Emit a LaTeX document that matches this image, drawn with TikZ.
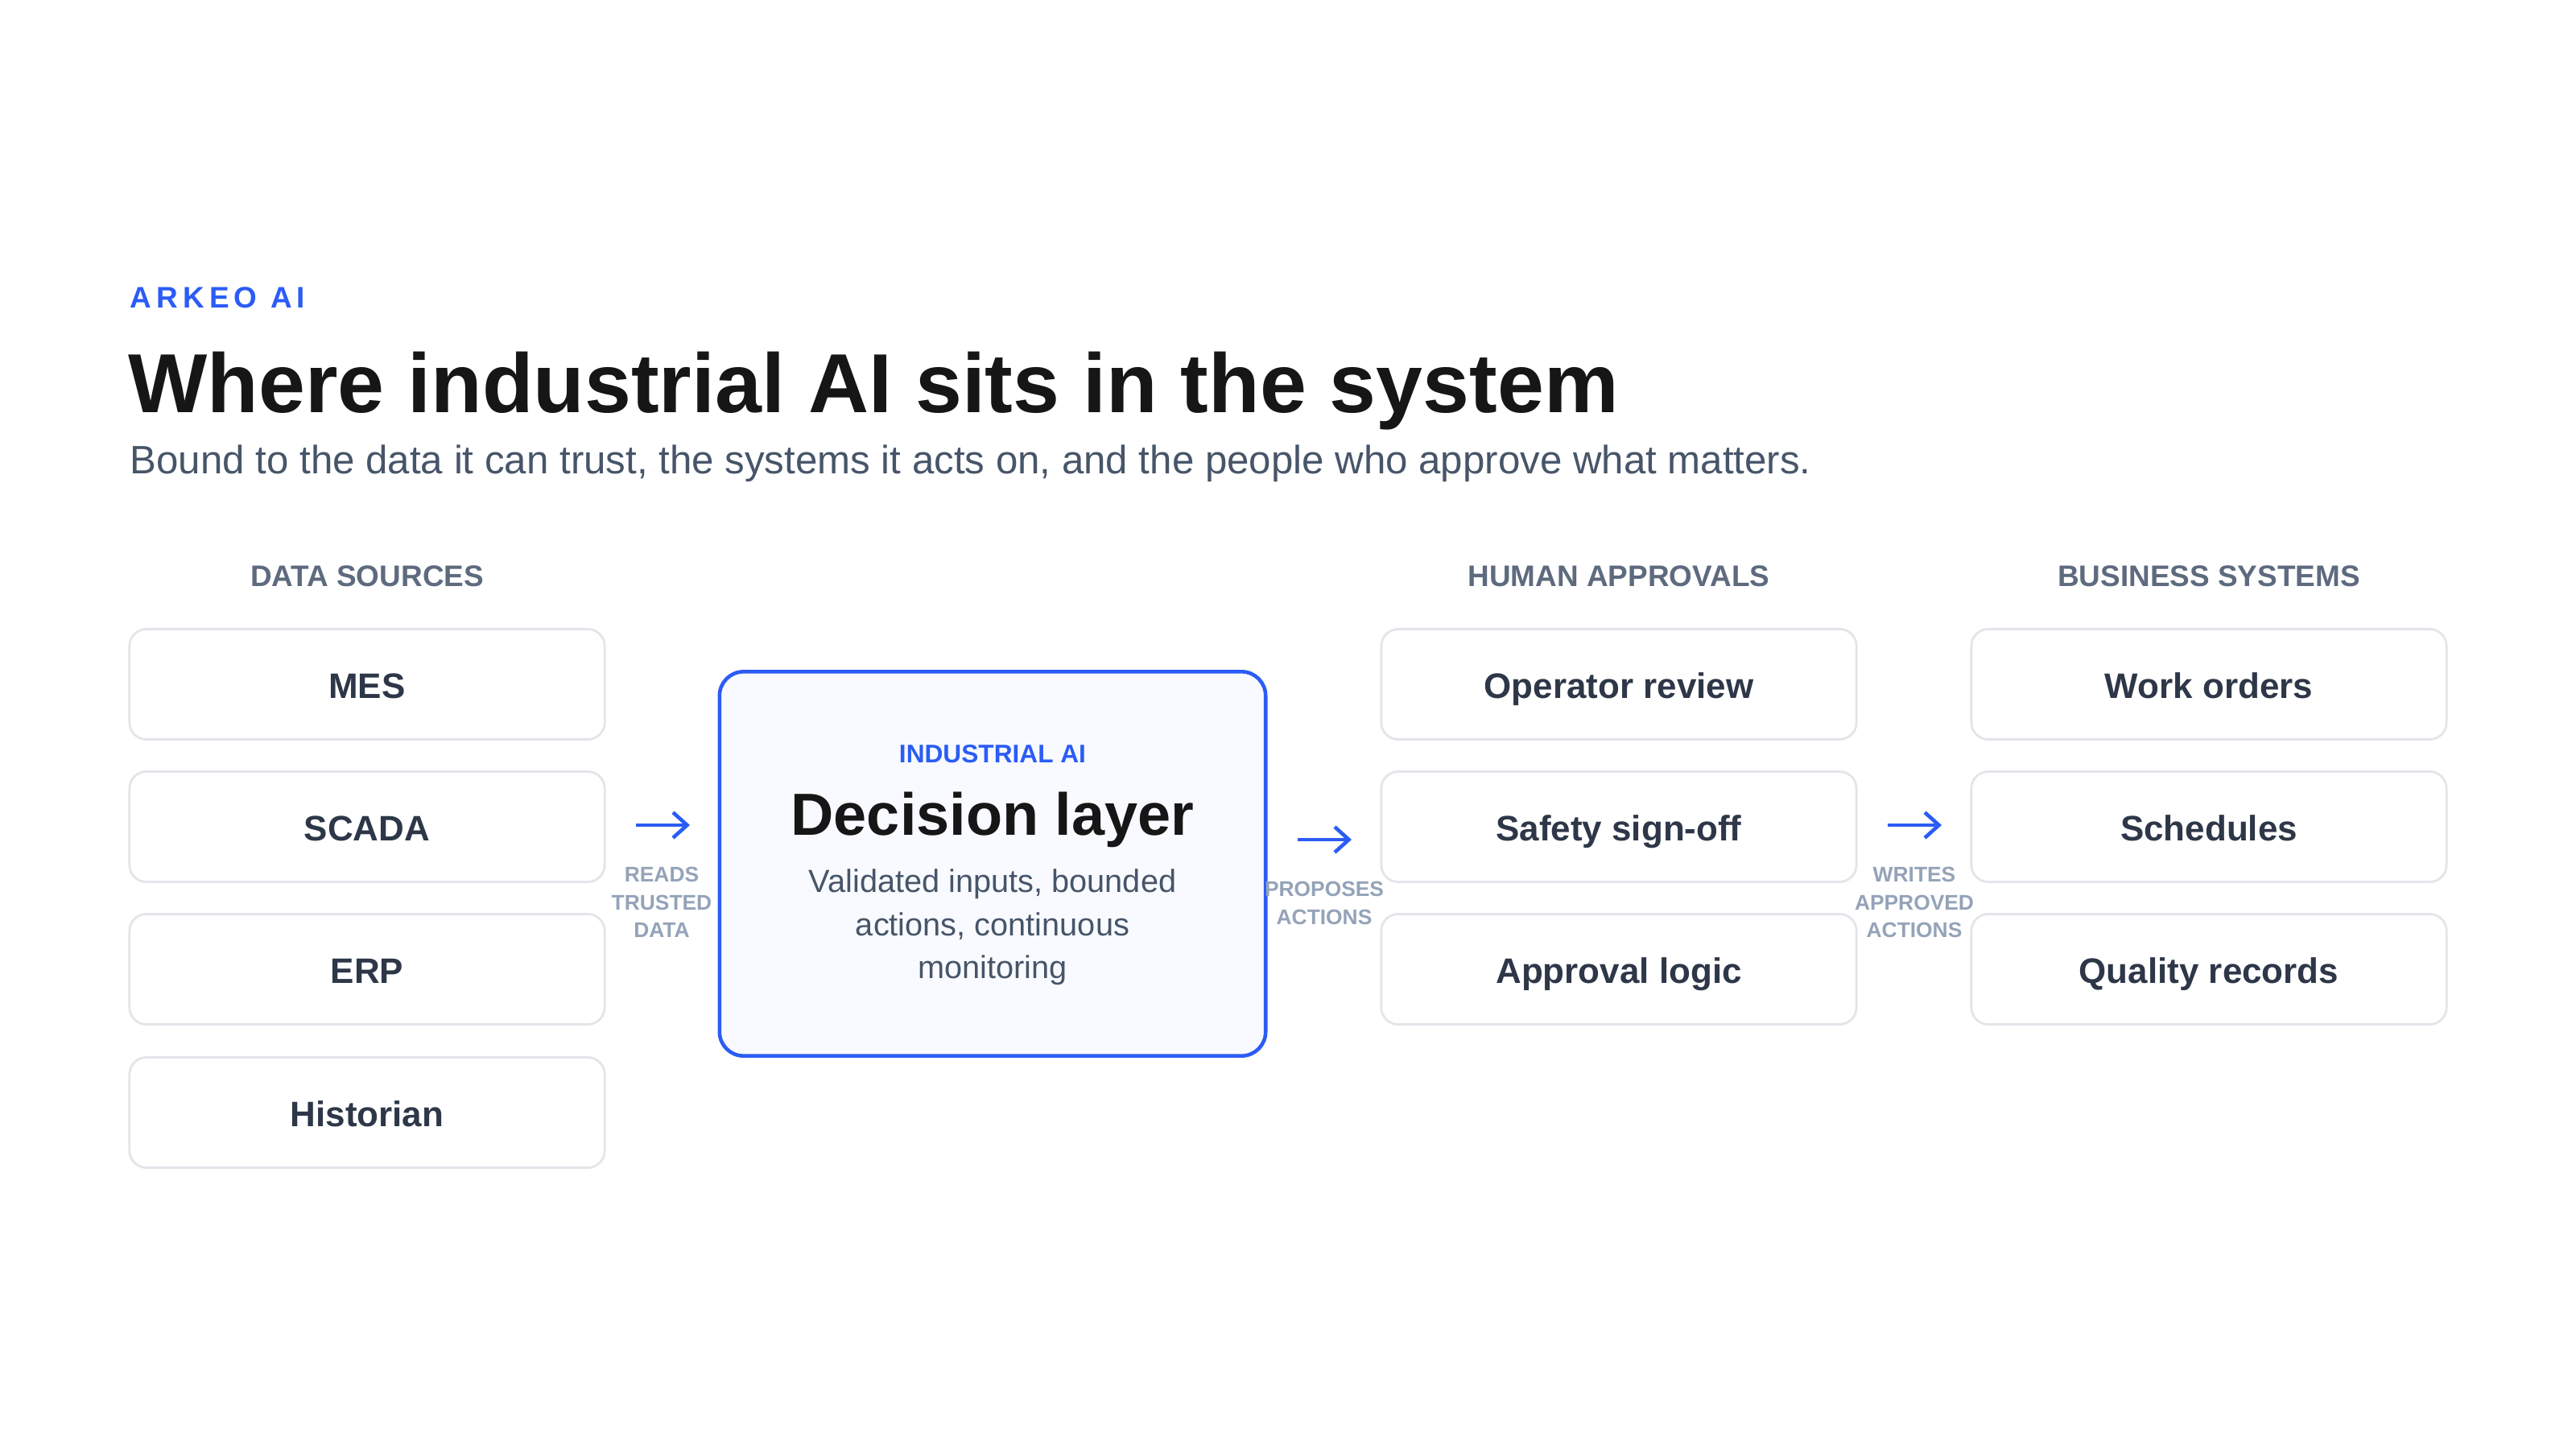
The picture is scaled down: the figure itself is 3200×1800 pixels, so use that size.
\documentclass[tikz,border=0pt]{standalone}
\usepackage{fontspec}
\setmainfont{Liberation Sans}
\usetikzlibrary{arrows.meta}
\definecolor{blue}{HTML}{2B5CF6}
\definecolor{ink}{HTML}{161616}
\definecolor{sub}{HTML}{475569}
\definecolor{hdr}{HTML}{5E6A7E}
\definecolor{lbl}{HTML}{94A3B8}
\definecolor{bord}{HTML}{E3E5EA}
\definecolor{boxtxt}{HTML}{2D3748}
\definecolor{dfill}{HTML}{F8FAFF}
\begin{document}
\begin{tikzpicture}[x=0.01cm,y=-0.01cm,
  box/.style={draw=bord,line width=0.8pt,rounded corners=6pt,minimum width=5.9cm,minimum height=1.37cm,inner sep=0pt,text height=2.1ex,text depth=0.2ex,font=\fontsize{12.5}{15}\selectfont\bfseries,text=boxtxt},
  hdr/.style={font=\fontsize{10.5}{12}\selectfont\bfseries,text=hdr},
  lab/.style={font=\fontsize{7.5}{9.8}\selectfont\bfseries,text=lbl,align=center},
  arr/.style={draw=blue,line width=1.3pt,-{Straight Barb[length=5pt,width=9pt]}}]
\useasboundingbox[fill=white] (0,0) rectangle (3200,1800);
\node[anchor=base west,inner sep=0,font=\fontsize{10.5}{12}\selectfont\bfseries,text=blue] (brand) at (161,382) {A\,R\,K\,E\,O\,\ A\,I};
\node[anchor=base west,inner sep=0,font=\fontsize{29.6}{34}\selectfont\bfseries,text=ink] (title) at (159,512) {Where industrial AI sits in the system};
\node[anchor=base west,inner sep=0,font=\fontsize{14}{16}\selectfont,text=sub] (subt) at (161,588) {Bound to the data it can trust, the systems it acts on, and the people who approve what matters.};
\node[hdr] (h1) at (456,716) {DATA SOURCES};
\node[hdr] (h2) at (2011,716) {HUMAN APPROVALS};
\node[hdr] (h3) at (2744,716) {BUSINESS SYSTEMS};
\node[box] (mes) at (456,850) {MES};
\node[box] (scada) at (456,1027) {SCADA};
\node[box] (erp) at (456,1204) {ERP};
\node[box] (hist) at (456,1382) {Historian};
\node[box] (op) at (2011,850) {Operator review};
\node[box] (safe) at (2011,1027) {Safety sign-off};
\node[box] (appr) at (2011,1204) {Approval logic};
\node[box] (wo) at (2744,850) {Work orders};
\node[box] (sch) at (2744,1027) {Schedules};
\node[box] (qr) at (2744,1204) {Quality records};
\node[draw=blue,fill=dfill,line width=1.3pt,rounded corners=8.5pt,minimum width=6.78cm,minimum height=4.77cm] (dec) at (1233,1073) {};
\node[font=\fontsize{9}{11}\selectfont\bfseries,text=blue] (dtag) at (1233,937) {INDUSTRIAL AI};
\node[font=\fontsize{21}{25}\selectfont\bfseries,text=ink] (dtitle) at (1233,1018) {Decision layer};
\node[font=\fontsize{11.3}{15.2}\selectfont,text=sub,align=center] (dbody) at (1233,1152) {Validated inputs, bounded\\actions, continuous\\monitoring};
\coordinate (a1s) at (790,1025); \coordinate (a1e) at (857,1025);
\coordinate (a2s) at (1612,1043); \coordinate (a2e) at (1679,1043);
\coordinate (a3s) at (2345,1025); \coordinate (a3e) at (2412,1025);
\draw[arr] (a1s) -- (a1e);
\draw[arr] (a2s) -- (a2e);
\draw[arr] (a3s) -- (a3e);
\node[lab] (l1) at (822,1121) {READS\\TRUSTED\\DATA};
\node[lab] (l2) at (1645,1122) {PROPOSES\\ACTIONS};
\node[lab] (l3) at (2378,1121) {WRITES\\APPROVED\\ACTIONS};
\end{tikzpicture}
\end{document}
